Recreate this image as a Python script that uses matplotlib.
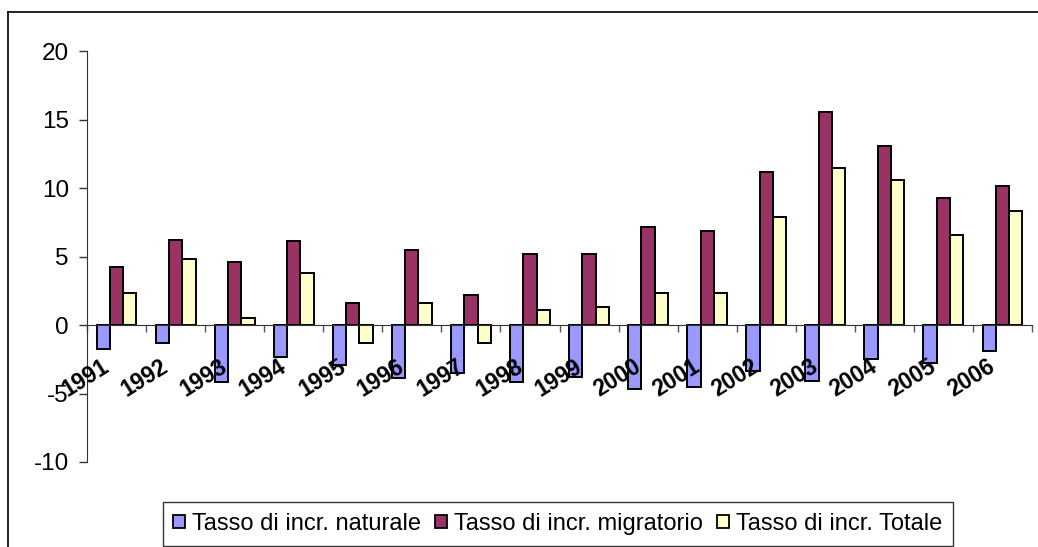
import matplotlib
matplotlib.use("Agg")
import matplotlib.pyplot as plt
import numpy as np
from matplotlib.lines import Line2D

plt.rcParams['font.family'] = ['Liberation Sans', 'DejaVu Sans']

years = ['1991', '1992', '1993', '1994', '1995', '1996', '1997', '1998',
         '1999', '2000', '2001', '2002', '2003', '2004', '2005', '2006']
naturale = [-1.77, -1.29, -4.14, -2.36, -2.94, -3.84, -3.53, -4.14,
            -3.82, -4.70, -4.55, -3.38, -4.11, -2.50, -2.80, -1.90]
migratorio = [4.21, 6.25, 4.62, 6.11, 1.58, 5.52, 2.17, 5.23,
              5.23, 7.13, 6.84, 11.19, 15.57, 13.10, 9.30, 10.17]
totale = [2.31, 4.80, 0.53, 3.77, -1.34, 1.58, -1.34, 1.12,
          1.29, 2.31, 2.31, 7.86, 11.48, 10.61, 6.55, 8.30]
series_names = ['Tasso di incr. naturale', 'Tasso di incr. migratorio',
                'Tasso di incr. Totale']
colors = ['#9999FF', '#993366', '#FFFFCC']
yticks = [-10, -5, 0, 5, 10, 15, 20]

W, H = 1038, 547
fig = plt.figure(figsize=(W / 100, H / 100), dpi=100)
ax = fig.add_axes([87 / W, 1 - 462 / H, (1032 - 87) / W, (462 - 51.3) / H])

x = np.arange(len(years))
bw = 0.225
for k, (vals, col) in enumerate(zip([naturale, migratorio, totale], colors)):
    ax.bar(x + (k - 1) * bw, vals, bw, color=col, edgecolor='black',
           linewidth=1.4, zorder=3)

ax.set_xlim(-0.5, len(years) - 0.5)
ax.set_ylim(-10, 20)
ax.set_yticks(yticks)
ax.set_yticklabels([str(v) for v in yticks])
ax.tick_params(axis='y', direction='out', length=6, width=1, pad=7,
               labelsize=17.5, color='#333333')

ax.spines['top'].set_visible(False)
ax.spines['right'].set_visible(False)
ax.spines['left'].set_color('#333333')
ax.spines['bottom'].set_position(('data', 0))
ax.spines['bottom'].set_color('#333333')
ax.spines['bottom'].set_zorder(4)

ax.set_xticks(np.arange(len(years) + 1) - 0.5)
ax.set_xticklabels([])
ax.tick_params(axis='x', direction='out', length=5, width=1, color='#555555')

for i, yr in enumerate(years):
    ax.text(i - 0.26, -2.15, yr, rotation=32, rotation_mode='anchor',
            ha='right', va='top', fontsize=16.5, fontweight='bold', zorder=5)

# outer chart frame
fig.add_artist(Line2D([8 / W, 8 / W], [0, 1 - 12 / H], transform=fig.transFigure,
                      color='black', lw=1.2))
fig.add_artist(Line2D([8 / W, 1], [1 - 12 / H, 1 - 12 / H], transform=fig.transFigure,
                      color='black', lw=1.2))

handles = [plt.Rectangle((0, 0), 1, 1, facecolor=c, edgecolor='black', linewidth=1.3)
           for c in colors]
leg = fig.legend(handles, series_names, loc='center', ncol=3,
                 bbox_to_anchor=(558 / W, 1 - 524 / H), fontsize=17,
                 frameon=True, fancybox=False, shadow=False,
                 handlelength=0.5, handleheight=0.5, handletextpad=0.3,
                 columnspacing=0.6, borderpad=0.45, borderaxespad=0)
leg.get_frame().set_edgecolor('black')
leg.get_frame().set_linewidth(1)

fig.savefig('out.png', dpi=100)
